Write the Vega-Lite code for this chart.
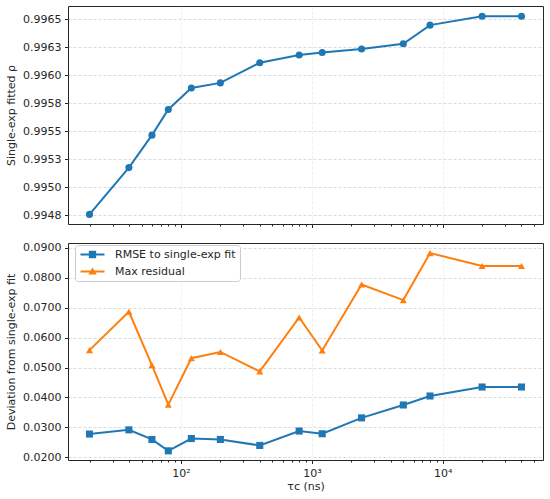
{
  "$schema": "https://vega.github.io/schema/vega-lite/v6.json",
  "padding": {"left": 5, "top": 5, "right": 5, "bottom": 5},
  "background": "white",
  "datasets": {
    "top": [
      {"tau": 20, "rho": 0.994756},
      {"tau": 40, "rho": 0.995174},
      {"tau": 60, "rho": 0.995464},
      {"tau": 80, "rho": 0.995693},
      {"tau": 120, "rho": 0.995886},
      {"tau": 200, "rho": 0.995931},
      {"tau": 400, "rho": 0.996111},
      {"tau": 800, "rho": 0.99618},
      {"tau": 1200, "rho": 0.996203},
      {"tau": 2400, "rho": 0.996233},
      {"tau": 5000, "rho": 0.99628},
      {"tau": 8000, "rho": 0.996447},
      {"tau": 20000, "rho": 0.996527},
      {"tau": 40000, "rho": 0.996527}
    ],
    "bottom": [
      {"tau": 20, "series": "RMSE to single-exp fit", "value": 0.0278},
      {"tau": 40, "series": "RMSE to single-exp fit", "value": 0.0292},
      {"tau": 60, "series": "RMSE to single-exp fit", "value": 0.0260},
      {"tau": 80, "series": "RMSE to single-exp fit", "value": 0.0222},
      {"tau": 120, "series": "RMSE to single-exp fit", "value": 0.0263},
      {"tau": 200, "series": "RMSE to single-exp fit", "value": 0.0260},
      {"tau": 400, "series": "RMSE to single-exp fit", "value": 0.0240},
      {"tau": 800, "series": "RMSE to single-exp fit", "value": 0.0288},
      {"tau": 1200, "series": "RMSE to single-exp fit", "value": 0.0279},
      {"tau": 2400, "series": "RMSE to single-exp fit", "value": 0.0332},
      {"tau": 5000, "series": "RMSE to single-exp fit", "value": 0.0375},
      {"tau": 8000, "series": "RMSE to single-exp fit", "value": 0.0405},
      {"tau": 20000, "series": "RMSE to single-exp fit", "value": 0.0435},
      {"tau": 40000, "series": "RMSE to single-exp fit", "value": 0.0435},
      {"tau": 20, "series": "Max residual", "value": 0.0558},
      {"tau": 40, "series": "Max residual", "value": 0.0686},
      {"tau": 60, "series": "Max residual", "value": 0.0508},
      {"tau": 80, "series": "Max residual", "value": 0.0376},
      {"tau": 120, "series": "Max residual", "value": 0.0531},
      {"tau": 200, "series": "Max residual", "value": 0.0552},
      {"tau": 400, "series": "Max residual", "value": 0.0487},
      {"tau": 800, "series": "Max residual", "value": 0.0667},
      {"tau": 1200, "series": "Max residual", "value": 0.0557},
      {"tau": 2400, "series": "Max residual", "value": 0.0777},
      {"tau": 5000, "series": "Max residual", "value": 0.0725},
      {"tau": 8000, "series": "Max residual", "value": 0.0882},
      {"tau": 20000, "series": "Max residual", "value": 0.0839},
      {"tau": 40000, "series": "Max residual", "value": 0.0839}
    ]
  },
  "vconcat": [
    {
      "width": 475,
      "height": 218,
      "data": {"name": "top"},
      "encoding": {
        "x": {
          "field": "tau", "type": "quantitative",
          "scale": {"type": "log", "domain": [13.7, 58400], "nice": false},
          "axis": {
            "title": null, "labels": false,
            "values": [20,30,40,50,60,70,80,90,100,200,300,400,500,600,700,800,900,1000,2000,3000,4000,5000,6000,7000,8000,9000,10000,20000,30000,40000,50000],
            "tickSize": {"condition": {"test": "datum.value == 100 || datum.value == 1000 || datum.value == 10000", "value": 3.5}, "value": 2},
            "gridOpacity": {"condition": {"test": "datum.value == 100 || datum.value == 1000 || datum.value == 10000", "value": 0.45}, "value": 0}
          }
        },
        "y": {
          "field": "rho", "type": "quantitative",
          "scale": {"domain": [0.99467, 0.996618], "nice": false, "zero": false},
          "axis": {
            "title": "Single-exp fitted ρ",
            "values": [0.99475, 0.995, 0.99525, 0.9955, 0.99575, 0.996, 0.99625, 0.9965],
            "labelExpr": "format(datum.value + 0.0000001, '.4f')",
            "titlePadding": 6
          }
        }
      },
      "layer": [
        {"mark": {"type": "line", "color": "#1f77b4", "strokeWidth": 2}},
        {"mark": {"type": "point", "shape": "circle", "filled": true, "opacity": 1, "color": "#1f77b4", "size": 50}}
      ]
    },
    {
      "width": 475,
      "height": 217,
      "data": {"name": "bottom"},
      "encoding": {
        "x": {
          "field": "tau", "type": "quantitative",
          "scale": {"type": "log", "domain": [13.7, 58400], "nice": false},
          "axis": {
            "title": "τc (ns)",
            "values": [20,30,40,50,60,70,80,90,100,200,300,400,500,600,700,800,900,1000,2000,3000,4000,5000,6000,7000,8000,9000,10000,20000,30000,40000,50000],
            "labelExpr": "datum.value == 100 ? '10²' : datum.value == 1000 ? '10³' : datum.value == 10000 ? '10⁴' : ''",
            "labelOverlap": false,
            "tickSize": {"condition": {"test": "datum.value == 100 || datum.value == 1000 || datum.value == 10000", "value": 3.5}, "value": 2},
            "gridOpacity": {"condition": {"test": "datum.value == 100 || datum.value == 1000 || datum.value == 10000", "value": 0.45}, "value": 0},
            "titlePadding": 2
          }
        },
        "y": {
          "field": "value", "type": "quantitative",
          "scale": {"domain": [0.01914, 0.09156], "nice": false, "zero": false},
          "axis": {
            "title": "Deviation from single-exp fit",
            "values": [0.02, 0.03, 0.04, 0.05, 0.06, 0.07, 0.08, 0.09],
            "format": ".4f",
            "titlePadding": 6
          }
        },
        "color": {
          "field": "series", "type": "nominal",
          "sort": ["RMSE to single-exp fit", "Max residual"],
          "scale": {"domain": ["RMSE to single-exp fit", "Max residual"], "range": ["#1f77b4", "#ff7f0e"]},
          "legend": {
            "title": null,
            "orient": "none",
            "legendX": 7,
            "legendY": 239,
            "padding": 4,
            "fillColor": "white",
            "strokeColor": "#cccccc",
            "cornerRadius": 3,
            "labelFont": "DejaVu Sans",
            "labelFontSize": 11,
            "labelColor": "#262626",
            "symbolType": "square",
            "symbolSize": 100,
            "symbolOffset": 8,
            "labelOffset": 17,
            "rowPadding": 5,
            "encode": {
              "symbols": {
                "update": {
                  "shape": {"signal": "datum.value === 'Max residual' ? 'M-2.4,-0.2H2.4V0.2H-2.4Z M0,-0.8L0.85,0.6L-0.85,0.6Z' : 'M-2.4,-0.2H2.4V0.2H-2.4Z M-0.73,-0.73H0.73V0.73H-0.73Z'"},
                  "strokeWidth": {"value": 0}
                }
              }
            }
          }
        }
      },
      "layer": [
        {"mark": {"type": "line", "strokeWidth": 2}},
        {
          "transform": [{"filter": "datum.series === 'RMSE to single-exp fit'"}],
          "mark": {"type": "point", "shape": "square", "filled": true, "opacity": 1, "size": 50}
        },
        {
          "transform": [{"filter": "datum.series === 'Max residual'"}],
          "mark": {"type": "point", "shape": "triangle-up", "filled": true, "opacity": 1, "size": 50}
        }
      ]
    }
  ],
  "config": {
    "font": "DejaVu Sans",
    "view": {"stroke": "#262626", "strokeWidth": 1},
    "concat": {"spacing": 12},
    "axis": {
      "labelFont": "DejaVu Sans", "labelFontSize": 11, "labelColor": "#262626",
      "titleFont": "DejaVu Sans", "titleFontSize": 11, "titleFontWeight": "normal", "titleColor": "#262626",
      "tickColor": "#262626", "tickSize": 3.5, "domain": false,
      "gridColor": "#b0b0b0", "gridDash": [3, 2], "gridOpacity": 0.45, "labelPadding": 3.5
    }
  }
}
